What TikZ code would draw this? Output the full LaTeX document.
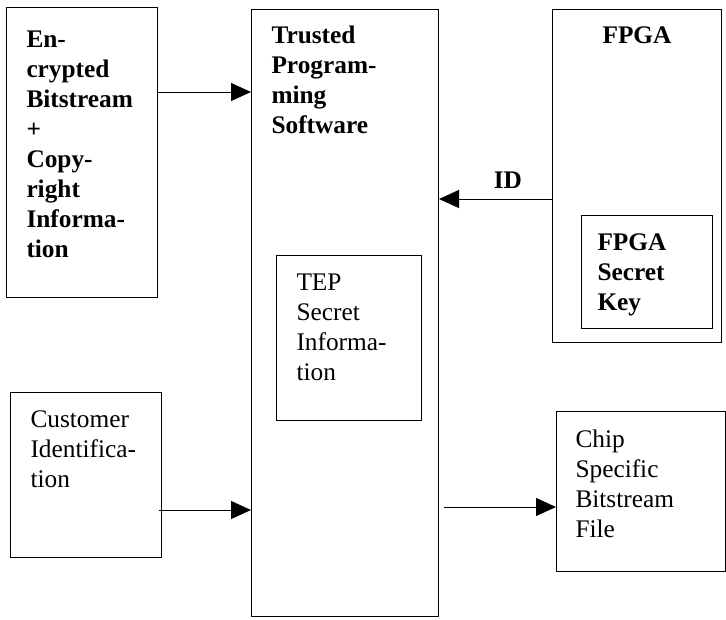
\documentclass[tikz,border=0pt]{standalone}
\usepackage{fontspec}
\setmainfont{Liberation Serif}
\usepackage{tikz}
\usetikzlibrary{arrows.meta,positioning,calc}
\tikzset{
  every picture/.style={line width=0.75pt},
  panel/.style={draw=black, anchor=north west, inner ysep=0pt, align=left, font=\fontsize{19}{22.5}\selectfont},
  boldpanel/.style={panel, font=\fontsize{19}{22.5}\selectfont\bfseries},
  arrow/.style={-{Triangle[length=15pt, width=13.5pt]}, draw=black},
}

\begin{document}
\begin{tikzpicture}[x=0.75pt, y=-0.75pt,
    tag/.style={font=\fontsize{19}{22.5}\selectfont\bfseries, anchor=base, inner sep=0pt}]
  \useasboundingbox (0,0) rectangle (726,619);
  \node[boldpanel, inner xsep=15pt, text width=83.25pt, text height=30pt, text depth=187.5pt] (enc) at (6,7)
    {En-\\crypted\\Bitstream\\+\\Copy-\\right\\Informa-\\tion};
  \node[boldpanel, inner xsep=15pt, text width=110.25pt, text height=25.5pt, text depth=429.75pt] (tps) at (251,9)
    {Trusted\\Program-\\ming\\Software};
  \node[panel, inner xsep=15pt, text width=78.75pt, text height=26.25pt, text depth=97.5pt] (tep) at (276,255)
    {TEP\\Secret\\Informa-\\tion};
  \node[boldpanel, align=center, inner xsep=15pt, text width=96.75pt, text height=25.5pt, text depth=224.25pt] (fpga) at (552,9)
    {FPGA};
  \node[boldpanel, inner xsep=12pt, text width=74.25pt, text height=26.25pt, text depth=58.5pt] (key) at (581,215)
    {FPGA\\Secret\\Key};
  \node[panel, inner xsep=15pt, text width=83.25pt, text height=26.25pt, text depth=97.5pt] (cust) at (10,392)
    {Customer\\Identifica-\\tion};
  \node[panel, inner xsep=14.25pt, text width=98.25pt, text height=27pt, text depth=93pt] (chip) at (556,411)
    {Chip\\Specific\\Bitstream\\File};
  \draw[arrow] (enc.east |- 0,92) -- (tps.west |- 0,92);
  \draw[arrow] (fpga.west |- 0,199) -- node[tag, pos=0.39, yshift=8.25pt] {ID} (tps.east |- 0,199);
  \draw[arrow] ([xshift=-2.25pt]cust.east |- 0,510) -- (tps.west |- 0,510);
  \draw[arrow] ([xshift=3.75pt]tps.east |- 0,507) -- (chip.west |- 0,507);
\end{tikzpicture}
\end{document}
